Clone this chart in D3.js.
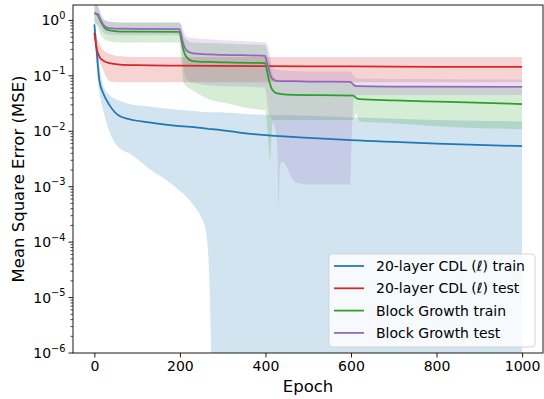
<!DOCTYPE html>
<html>
<head>
<meta charset="utf-8">
<script src="https://cdn.jsdelivr.net/npm/d3@7"></script>
<style>
  body { margin: 0; background: #fff; }
  text { font-family: "DejaVu Sans", sans-serif; }
</style>
</head>
<body>
<div class="canvas"></div>
<script>
// values (epoch, mean, lower and upper edge of the band)
const blueEpoch = [0, 5, 12, 20, 35, 58, 82, 128, 182, 238, 250, 262, 269, 276, 282, 339, 385, 502, 600, 800, 1000]
const blueMean  = [0.85, 0.3, 0.08, 0.05, 0.03, 0.019, 0.0165, 0.0145, 0.0128, 0.0118, 0.0115, 0.0112, 0.011, 0.0109, 0.0108, 0.0095, 0.0087, 0.0076, 0.0069, 0.006, 0.0054]
const blueHi    = [0.9, 0.55, 0.15, 0.07, 0.045, 0.036, 0.031, 0.028, 0.025, 0.023, 0.0225, 0.022, 0.022, 0.022, 0.022, 0.021, 0.02, 0.019, 0.018, 0.016, 0.015]
const blueLo    = [0.8, 0.15, 0.05, 0.025, 0.01, 0.005, 0.004, 0.0021, 0.0011, 4e-4, 2.8e-4, 1.4e-4, 2e-5, 1e-7, 1e-8, 1e-8, 1e-8, 1e-8, 1e-8, 1e-8, 1e-8]

const redEpoch = [0, 5, 12, 20, 35, 60, 100, 200, 400, 600, 800, 1000]
const redMean  = [0.6, 0.32, 0.22, 0.19, 0.17, 0.16, 0.156, 0.153, 0.15, 0.148, 0.146, 0.145]
const redHi    = [0.65, 0.5, 0.38, 0.3, 0.25, 0.225, 0.22, 0.22, 0.22, 0.22, 0.22, 0.22]
const redLo    = [0.55, 0.25, 0.18, 0.13, 0.08, 0.077, 0.077, 0.077, 0.077, 0.077, 0.077, 0.077]

const greenEpoch = [0, 8, 15, 25, 35, 60, 199, 203, 208, 215, 230, 270, 310, 360, 399, 403, 408, 411, 414, 418, 425, 450, 605, 612, 620, 700, 830, 1000]
const greenMean  = [1.35, 1.25, 0.95, 0.72, 0.66, 0.63, 0.62, 0.45, 0.3, 0.22, 0.185, 0.178, 0.175, 0.172, 0.17, 0.13, 0.085, 0.07, 0.06, 0.054, 0.049, 0.046, 0.044, 0.04, 0.038, 0.036, 0.034, 0.031]
const greenHi    = [2.2, 1.9, 1.3, 1.0, 0.95, 0.92, 0.92, 0.8, 0.55, 0.45, 0.4, 0.39, 0.38, 0.37, 0.36, 0.3, 0.2, 0.15, 0.12, 0.1, 0.085, 0.08, 0.075, 0.068, 0.065, 0.063, 0.062, 0.06]
const greenLo    = [0.9, 0.75, 0.55, 0.45, 0.42, 0.4, 0.4, 0.2, 0.08, 0.065, 0.055, 0.037, 0.032, 0.026, 0.024, 0.015, 0.005, 0.003, 0.008, 0.016, 0.016, 0.016, 0.016, 0.021, 0.015, 0.014, 0.012, 0.011]

const purpleEpoch = [0, 8, 15, 25, 35, 60, 199, 203, 208, 215, 230, 300, 399, 403, 408, 412, 416, 424, 428, 431, 434, 440, 470, 500, 598, 602, 607, 615, 700, 1000]
const purpleMean  = [1.35, 1.3, 1.0, 0.78, 0.73, 0.71, 0.7, 0.55, 0.38, 0.29, 0.255, 0.24, 0.23, 0.18, 0.13, 0.1, 0.088, 0.082, 0.081, 0.08, 0.08, 0.08, 0.08, 0.079, 0.078, 0.074, 0.068, 0.065, 0.064, 0.063]
const purpleHi    = [2.0, 1.8, 1.3, 1.0, 0.95, 0.92, 0.92, 0.85, 0.65, 0.52, 0.48, 0.44, 0.4, 0.38, 0.3, 0.2, 0.15, 0.13, 0.13, 0.128, 0.126, 0.125, 0.122, 0.12, 0.12, 0.11, 0.1, 0.09, 0.088, 0.086]
const purpleLo    = [0.9, 0.85, 0.7, 0.58, 0.55, 0.54, 0.54, 0.35, 0.15, 0.09, 0.075, 0.065, 0.062, 0.04, 0.02, 0.018, 0.016, 0.01, 0.004, 0.0004, 0.0025, 0.0028, 0.0012, 0.0011, 0.0011, 0.01, 0.04, 0.045, 0.045, 0.045]

const seriesNames = ["20-layer CDL (\u2113) train", "20-layer CDL (\u2113) test", "Block Growth train", "Block Growth test"]
const xTicks = [0, 200, 400, 600, 800, 1000]
const yTicks = [1e-6, 1e-5, 1e-4, 1e-3, 1e-2, 1e-1, 1e0]
const yExponents = ["\u22126", "\u22125", "\u22124", "\u22123", "\u22122", "\u22121", "0"]

const width = 544
const height = 399
let [mt, mr, mb, ml] = [5, 1, 46, 73]
let graphWidth = width - ml - mr
let graphHeight = height - mt - mb

const colors = ["#1f77b4", "#d62728", "#2ca02c", "#9467bd"]
const series = [
    {epoch: blueEpoch, mean: blueMean, lo: blueLo, hi: blueHi},
    {epoch: redEpoch, mean: redMean, lo: redLo, hi: redHi},
    {epoch: greenEpoch, mean: greenMean, lo: greenLo, hi: greenHi},
    {epoch: purpleEpoch, mean: purpleMean, lo: purpleLo, hi: purpleHi},
].map((s, i) => ({
    name: seriesNames[i],
    color: colors[i],
    points: s.epoch.map((e, j) => ({e, m: s.mean[j], lo: s.lo[j], hi: s.hi[j]}))
}))

const svg = d3.select(".canvas")
    .append("svg")
    .attr("width", width)
    .attr("height", height)

svg.append("defs").append("clipPath")
    .attr("id", "plot-clip")
    .append("rect")
    .attr("width", graphWidth)
    .attr("height", graphHeight)

const graph = svg.append("g")
    .attr("transform", `translate(${ml}, ${mt})`)

const x = d3.scaleLinear()
    .domain([-49.95, 1048.95])
    .range([0, graphWidth])

const y = d3.scaleLog()
    .domain([1e-6, 1.9])
    .range([graphHeight, 0])

const plot = graph.append("g").attr("clip-path", "url(#plot-clip)")

const band = d3.area()
    .x(d => x(d.e))
    .y0(d => y(d.lo))
    .y1(d => y(d.hi))
    .curve(d3.curveMonotoneX)

const line = d3.line()
    .x(d => x(d.e))
    .y(d => y(d.m))
    .curve(d3.curveMonotoneX)

// bands sit under every line, as in matplotlib
plot.selectAll(".band")
    .data(series)
    .enter()
    .append("path")
    .attr("class", "band")
    .attr("d", d => band(d.points))
    .attr("fill", d => d.color)
    .attr("fill-opacity", 0.2)

plot.selectAll(".mean")
    .data(series)
    .enter()
    .append("path")
    .attr("class", "mean")
    .attr("d", d => line(d.points))
    .attr("fill", "none")
    .attr("stroke", d => d.color)
    .attr("stroke-width", 1.75)

// x axis
const xAxis = graph.append("g")
    .attr("transform", `translate(0, ${graphHeight})`)
    .call(d3.axisBottom(x).tickValues(xTicks).tickSize(4.5).tickPadding(4).tickFormat(d3.format("d")))
xAxis.select(".domain").remove()
xAxis.selectAll("line").attr("stroke", "#000").attr("stroke-width", 0.9)
xAxis.selectAll("text").attr("font-size", 14).attr("fill", "#000")
    .attr("font-family", "DejaVu Sans")

// y axis, major and minor ticks
const yMinor = y.ticks().filter(v => !yTicks.some(t => Math.abs(t - v) / t < 1e-9))
const yAxis = graph.append("g")
yAxis.selectAll(".minor")
    .data(yMinor)
    .enter()
    .append("line")
    .attr("x1", -2.6).attr("x2", 0)
    .attr("y1", d => y(d)).attr("y2", d => y(d))
    .attr("stroke", "#000").attr("stroke-width", 0.7)

const majors = yAxis.selectAll(".major")
    .data(yTicks)
    .enter()
    .append("g")
    .attr("transform", d => `translate(0, ${y(d)})`)
majors.append("line")
    .attr("x1", -4.5).attr("x2", 0)
    .attr("stroke", "#000").attr("stroke-width", 0.9)
const labels = majors.append("text")
    .attr("x", -7.5)
    .attr("y", 5)
    .attr("text-anchor", "end")
    .attr("font-size", 14)
    .attr("fill", "#000")
labels.append("tspan").text("10")
labels.append("tspan")
    .attr("dy", -6.5)
    .attr("font-size", 9.8)
    .text((d, i) => yExponents[i])

// spines
graph.append("rect")
    .attr("width", graphWidth)
    .attr("height", graphHeight)
    .attr("fill", "none")
    .attr("stroke", "#000")
    .attr("stroke-width", 0.9)

// axis titles
svg.append("text")
    .attr("x", ml + graphWidth / 2)
    .attr("y", 392)
    .attr("text-anchor", "middle")
    .attr("font-size", 16.5)
    .text("Epoch")

svg.append("text")
    .attr("transform", `translate(24, ${mt + graphHeight / 2}) rotate(-90)`)
    .attr("text-anchor", "middle")
    .attr("font-size", 16.5)
    .text("Mean Square Error (MSE)")

// legend
const legend = svg.append("g").attr("transform", "translate(329, 254)")
legend.append("rect")
    .attr("width", 206)
    .attr("height", 93)
    .attr("rx", 3)
    .attr("fill", "#fff")
    .attr("fill-opacity", 0.8)
    .attr("stroke", "#d0d0d0")
    .attr("stroke-width", 0.9)

const items = legend.selectAll(".item")
    .data(series)
    .enter()
    .append("g")
    .attr("transform", (d, i) => `translate(0, ${12 + i * 22.3})`)
items.append("line")
    .attr("x1", 5).attr("x2", 35)
    .attr("stroke", d => d.color)
    .attr("stroke-width", 1.75)
items.append("text")
    .attr("x", 47)
    .attr("y", 5)
    .attr("font-size", 14)
    .attr("fill", "#000")
    .text(d => d.name)
</script>
</body>
</html>
